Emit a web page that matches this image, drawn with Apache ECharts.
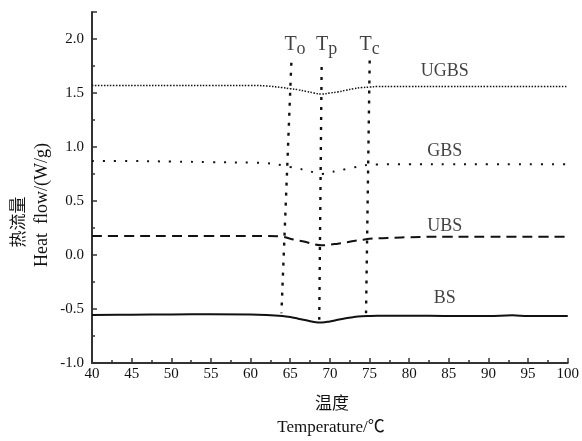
<!DOCTYPE html>
<html>
<head>
<meta charset="utf-8">
<script src="https://cdn.jsdelivr.net/npm/echarts@6/dist/echarts.min.js"></script>
<style>
html, body { margin: 0; padding: 0; background: #fff; }
#chart { width: 582px; height: 441px; }
</style>
</head>
<body>
<div id="chart"></div>
<script>
// temperature points (°C)
var temps = [40, 45, 50, 55, 60, 62, 64, 65, 66, 67, 68, 69, 70, 71, 72, 73, 74, 75, 76, 78, 80, 85, 90, 93, 95, 100];

// heat flow (W/g)
var ugbs = [1.57, 1.57, 1.57, 1.57, 1.57, 1.565, 1.55, 1.54, 1.53, 1.515, 1.50, 1.49, 1.50, 1.51, 1.525, 1.54, 1.55, 1.555, 1.56, 1.56, 1.56, 1.56, 1.56, 1.56, 1.56, 1.56];
var gbs = [0.87, 0.87, 0.865, 0.86, 0.855, 0.85, 0.83, 0.815, 0.80, 0.785, 0.765, 0.75, 0.765, 0.78, 0.795, 0.81, 0.825, 0.835, 0.838, 0.84, 0.84, 0.84, 0.84, 0.84, 0.84, 0.84];
var ubs = [0.175, 0.175, 0.175, 0.175, 0.175, 0.175, 0.17, 0.15, 0.135, 0.12, 0.10, 0.09, 0.095, 0.105, 0.115, 0.13, 0.14, 0.15, 0.155, 0.16, 0.165, 0.17, 0.17, 0.17, 0.17, 0.17];
var bs = [-0.555, -0.553, -0.55, -0.548, -0.55, -0.555, -0.565, -0.575, -0.59, -0.605, -0.62, -0.625, -0.615, -0.60, -0.585, -0.575, -0.568, -0.565, -0.563, -0.562, -0.562, -0.565, -0.565, -0.558, -0.565, -0.565];

// To / Tp / Tc guide lines: [top, bottom]
var toLine = [[65.14, 1.78], [63.89, -0.54]];
var tpLine = [[68.96, 1.74], [68.66, -0.60]];
var tcLine = [[75.02, 1.80], [74.56, -0.54]];

// labels
var tNames = ['o', 'p', 'c'];
var tLabelX = [65.6, 69.6, 75.0];
var tLabelY = [1.93, 1.93, 1.93];
var curveNames = ['UGBS', 'GBS', 'UBS', 'BS'];
var curveLabelX = [84.5, 84.5, 84.5, 84.5];
var curveLabelY = [1.70, 0.957, 0.27, -0.40];

var xTicks = { min: 40, max: 100, interval: 5 };
var yTicks = { min: -1, max: 2.25, interval: 0.5 };

var serif = '"Liberation Serif", "Times New Roman", "Noto Sans CJK SC", serif';

function pairs(ys) {
  return temps.map(function (t, i) { return [t, ys[i]]; });
}

function curve(name, ys, lineStyle) {
  return {
    name: name, type: 'line', data: pairs(ys), smooth: 0.4, showSymbol: false,
    symbol: 'none', lineStyle: lineStyle, silent: true
  };
}

function guide(pts) {
  return {
    type: 'line', data: pts, symbol: 'none', silent: true,
    lineStyle: { color: '#111', width: 2.4, type: [3, 7] }
  };
}

var myChart = echarts.init(document.getElementById('chart'));

var option = {
  animation: false,
  backgroundColor: '#fff',
  grid: { left: 92, right: 12, top: 12, bottom: 78 },
  xAxis: {
    type: 'value',
    min: xTicks.min, max: xTicks.max, interval: xTicks.interval,
    axisLine: { show: true, onZero: false, lineStyle: { color: '#333', width: 2 } },
    axisTick: { show: true, inside: true, length: 5, lineStyle: { color: '#333', width: 1.5 } },
    minorTick: { show: true, splitNumber: 2, length: 3, lineStyle: { color: '#333', width: 1.5 } },
    axisLabel: { color: '#111', fontSize: 15, fontFamily: serif, margin: 4 },
    splitLine: { show: false }
  },
  yAxis: {
    type: 'value',
    min: yTicks.min, max: yTicks.max, interval: yTicks.interval,
    axisLine: { show: true, onZero: false, lineStyle: { color: '#333', width: 2 } },
    axisTick: { show: true, inside: true, length: 5, lineStyle: { color: '#333', width: 1.5 } },
    minorTick: { show: true, splitNumber: 2, length: 3, lineStyle: { color: '#333', width: 1.5 } },
    axisLabel: {
      color: '#111', fontSize: 15, fontFamily: serif, margin: 8, showMaxLabel: false,
      formatter: function (v) { return v.toFixed(1); }
    },
    splitLine: { show: false }
  },
  series: [
    curve('UGBS', ugbs, { color: '#111', width: 1.5, type: [1.5, 1.5] }),
    curve('GBS', gbs, { color: '#111', width: 2, type: [2, 9] }),
    curve('UBS', ubs, { color: '#111', width: 2, type: [10, 6] }),
    curve('BS', bs, { color: '#111', width: 2 }),
    guide(toLine),
    guide(tpLine),
    guide(tcLine),
    {
      type: 'scatter', symbolSize: 0, silent: true,
      data: tLabelX.map(function (x, i) { return { value: [x, tLabelY[i]], name: tNames[i] }; }),
      label: {
        show: true, position: 'inside',
        formatter: function (p) { return '{t|T}{s|' + p.name + '}'; },
        rich: {
          t: { fontSize: 20, fontFamily: serif, color: '#111', verticalAlign: 'bottom', padding: [0, 0, 3, 0] },
          s: { fontSize: 18, fontFamily: serif, color: '#111', verticalAlign: 'bottom' }
        }
      }
    },
    {
      type: 'scatter', symbolSize: 0, silent: true,
      data: curveLabelX.map(function (x, i) { return { value: [x, curveLabelY[i]], name: curveNames[i] }; }),
      label: {
        show: true, position: 'inside', formatter: '{b}',
        fontSize: 18, fontFamily: serif, color: '#111'
      }
    }
  ],
  graphic: [
    {
      type: 'text', x: 20, y: 222, rotation: Math.PI / 2,
      style: { text: '热流量', fontSize: 17, fontFamily: serif, fill: '#111', textAlign: 'center', textVerticalAlign: 'middle' }
    },
    {
      type: 'text', x: 42, y: 205, rotation: Math.PI / 2,
      style: { text: 'Heat  flow/(W/g)', fontSize: 18, fontFamily: serif, fill: '#111', textAlign: 'center', textVerticalAlign: 'middle' }
    },
    {
      type: 'text', x: 332, y: 405,
      style: { text: '温度', fontSize: 17, fontFamily: serif, fill: '#111', textAlign: 'center', textVerticalAlign: 'middle' }
    },
    {
      type: 'text', x: 331, y: 428,
      style: { text: 'Temperature/℃', fontSize: 17, fontFamily: serif, fill: '#111', textAlign: 'center', textVerticalAlign: 'middle' }
    }
  ]
};

myChart.setOption(option);
</script>
</body>
</html>
